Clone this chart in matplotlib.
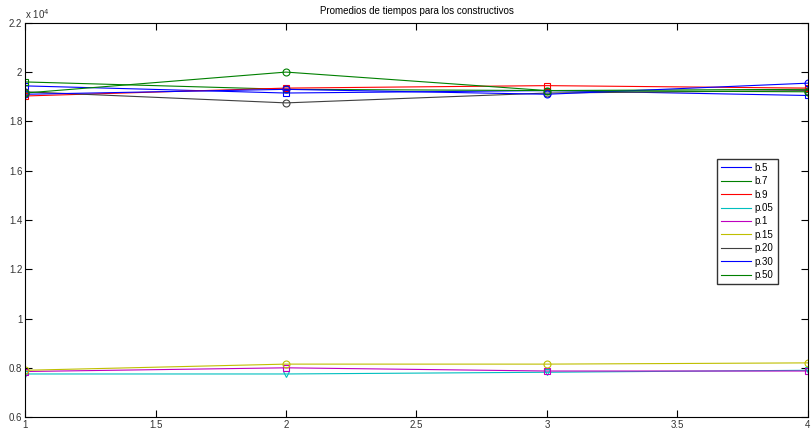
import matplotlib.pyplot as plt
from matplotlib.ticker import FuncFormatter

x = [1, 2, 3, 4]

labels = ['b.5', 'b.7', 'b.9', 'p.05', 'p.1', 'p.15', 'p.20', 'p.30', 'p.50']

b5 = [19440, 19150, 19250, 19050]
b7 = [19600, 19300, 19250, 19300]
b9 = [19030, 19350, 19450, 19350]
p05 = [7750, 7750, 7820, 7900]
p1 = [7850, 8000, 7870, 7870]
p15 = [7900, 8150, 8150, 8200]
p20 = [19200, 18750, 19150, 19250]
p30 = [19100, 19300, 19100, 19550]
p50 = [19150, 20000, 19250, 19200]

series = [b5, b7, b9, p05, p1, p15, p20, p30, p50]
colors = [(0, 0, 1), (0, 0.5, 0), (1, 0, 0), (0, 0.75, 0.75), (0.75, 0, 0.75),
          (0.75, 0.75, 0), (0.25, 0.25, 0.25), (0, 0, 1), (0, 0.5, 0)]
markers = ['s', 's', 's', 'v', 's', 'o', 'o', 'o', 'o']

plt.rcParams['font.family'] = ['Liberation Sans', 'DejaVu Sans']

fig = plt.figure(figsize=(8.11, 4.30), dpi=100)
ax = fig.add_axes([0.031, 0.030, 0.965, 0.917])

for y, c, lab in zip(series, colors, labels):
    ax.plot(x, y, color=c, lw=0.8, label=lab)
for y, c, m in zip(series, colors, markers):
    ax.plot(x, y, linestyle='none', marker=m, ms=5, mfc='none', mec=c, mew=0.8)

ax.set_xlim(1, 4)
ax.set_ylim(6000, 22000)
ax.set_xticks([1, 1.5, 2, 2.5, 3, 3.5, 4])
ax.set_xticklabels(['1', '1.5', '2', '2.5', '3', '3.5', '4'])
ax.set_yticks(range(6000, 22001, 2000))
ax.yaxis.set_major_formatter(FuncFormatter(lambda v, p: '%g' % (v / 1e4)))
ax.tick_params(direction='in', top=True, right=True, labelsize=7, length=5,
               labelcolor='#333333', pad=2)
for s in ax.spines.values():
    s.set_linewidth(0.8)

ax.text(0, 1.005, r'x 10$^4$', transform=ax.transAxes, fontsize=7, color='#333333',
        ha='left', va='bottom')
ax.set_title('Promedios de tiempos para los constructivos', fontsize=7, pad=6)

ax.legend(loc='upper left', bbox_to_anchor=(0.884, 0.655), fontsize=7, frameon=True,
          fancybox=False, edgecolor='black', handlelength=3.1, labelspacing=0.35,
          borderpad=0.4, handletextpad=0.4, borderaxespad=0)

fig.savefig('out.png', dpi=100)
